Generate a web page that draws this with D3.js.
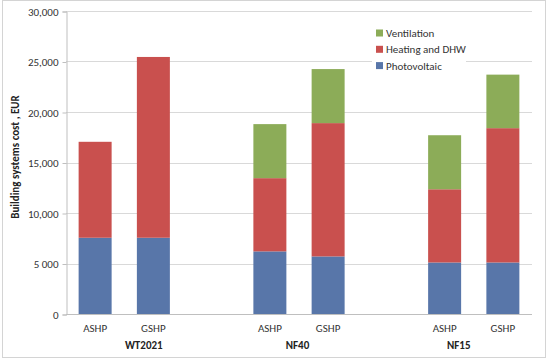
<!DOCTYPE html>
<html><head><meta charset="utf-8">
<script src="https://cdn.jsdelivr.net/npm/d3@7"></script>
<style>
html,body{margin:0;padding:0;background:#fff;}
svg{display:block;font-family:Carlito,Lato,"Open Sans",sans-serif;}
</style></head>
<body>
<svg id="chart" width="550" height="360"></svg>
<script>
// ---- data ----
const groups = ["WT2021", "NF40", "NF15"];
const systems = ["ASHP", "GSHP"];
const seriesNames = ["Photovoltaic", "Heating and DHW", "Ventilation"];
const photovoltaic = [7550, 7550, 6200, 5700, 5100, 5100];
const heatingDHW   = [9500, 17900, 7250, 13200, 7250, 13300];
const ventilation  = [0, 0, 5350, 5350, 5350, 5300];
const yTickValues = [0, 5000, 10000, 15000, 20000, 25000, 30000];
const yTickLabels = ["0", "5 000", "10,000", "15,000", "20,000", "25,000", "30,000"];
const yTitle = "Building systems cost , EUR";

// ---- layout / style ----
const colors = {"Photovoltaic": "#5876a9", "Heating and DHW": "#c9504e", "Ventilation": "#8cac58"};
const plotLeft = 66, plotRight = 532, plotTop = 11, plotBottom = 314;
const groupLabelNudge = [19.5, -1.5, -15];

const svg = d3.select("#chart");

// outer border
svg.append("rect").attr("x", 2.5).attr("y", 0.5).attr("width", 543).attr("height", 357)
  .attr("fill", "#fff").attr("stroke", "#d4d4d4");

// slots: ASHP, GSHP, gap, ...
const slots = [];
groups.forEach((g, gi) => {
  systems.forEach(s => slots.push(g + "|" + s));
  if (gi < groups.length - 1) slots.push("gap" + gi);
});
const pad = 0.4335;
const x = d3.scaleBand().domain(slots).range([plotLeft, plotRight]).paddingInner(pad).paddingOuter(pad / 2);
const y = d3.scaleLinear().domain([0, 30000]).range([plotBottom, plotTop]);

// rows
const rows = [];
groups.forEach((g, gi) => systems.forEach((s, si) => {
  const i = gi * systems.length + si;
  rows.push({key: g + "|" + s, group: g, system: s,
    "Photovoltaic": photovoltaic[i], "Heating and DHW": heatingDHW[i], "Ventilation": ventilation[i]});
}));

// gridlines
svg.append("g").selectAll("line").data(yTickValues.slice(1)).join("line")
  .attr("x1", plotLeft).attr("x2", plotRight)
  .attr("y1", d => Math.round(y(d)) + 0.5).attr("y2", d => Math.round(y(d)) + 0.5)
  .attr("stroke", "#d9d9d9").attr("stroke-width", 1);

// y axis
const yAxis = d3.axisLeft(y).tickValues(yTickValues).tickSize(4).tickPadding(4)
  .tickFormat((d, i) => yTickLabels[i]);
const ya = svg.append("g").attr("transform", `translate(${plotLeft + 0.5},0.5)`).call(yAxis);
ya.select(".domain").attr("stroke", "#bfbfbf");
ya.selectAll(".tick line").attr("stroke", "#bfbfbf");
ya.selectAll(".tick text").attr("font-size", 11).attr("fill", "#333").attr("font-family", "Carlito,Lato,sans-serif");

// stacked bars
const stack = d3.stack().keys(seriesNames);
const stacked = stack(rows);
svg.append("g").selectAll("g").data(stacked).join("g")
  .attr("fill", d => colors[d.key])
  .selectAll("rect").data(d => d.filter(p => p[1] > p[0])).join("rect")
  .attr("x", d => x(d.data.key)).attr("width", x.bandwidth())
  .attr("y", d => y(d[1])).attr("height", d => y(d[0]) - y(d[1]));

// x axis line
svg.append("line").attr("x1", plotLeft).attr("x2", plotRight)
  .attr("y1", plotBottom + 0.5).attr("y2", plotBottom + 0.5).attr("stroke", "#bfbfbf");

// category labels
svg.append("g").selectAll("text").data(rows).join("text")
  .attr("x", d => x(d.key) + x.bandwidth() / 2).attr("y", 332)
  .attr("text-anchor", "middle").attr("font-size", 11).attr("fill", "#333")
  .text(d => d.system);

// group labels
svg.append("g").selectAll("text").data(groups).join("text")
  .attr("x", (g, gi) => {
    const a = x(g + "|" + systems[0]) + x.bandwidth() / 2;
    const b = x(g + "|" + systems[systems.length - 1]) + x.bandwidth() / 2;
    return (a + b) / 2 + groupLabelNudge[gi];
  })
  .attr("y", 349).attr("text-anchor", "middle").attr("font-size", 11)
  .attr("font-weight", "bold").attr("fill", "#222").text(g => g);

// y title
svg.append("text").attr("transform", "translate(19,157) rotate(-90)")
  .attr("text-anchor", "middle").attr("font-size", 11).attr("font-weight", "bold")
  .attr("fill", "#222").text(yTitle);

// legend
const legendItems = seriesNames.slice().reverse();
svg.append("rect").attr("x", 372).attr("y", 24).attr("width", 94).attr("height", 52).attr("fill", "#fff");
const lg = svg.append("g").selectAll("g").data(legendItems).join("g")
  .attr("transform", (d, i) => `translate(376,${33 + i * 16.3})`);
lg.append("rect").attr("x", 0).attr("y", -3.5).attr("width", 7).attr("height", 7).attr("fill", d => colors[d]);
lg.append("text").attr("x", 10).attr("y", 4).attr("font-size", 11).attr("fill", "#333").text(d => d);
</script>
</body></html>
